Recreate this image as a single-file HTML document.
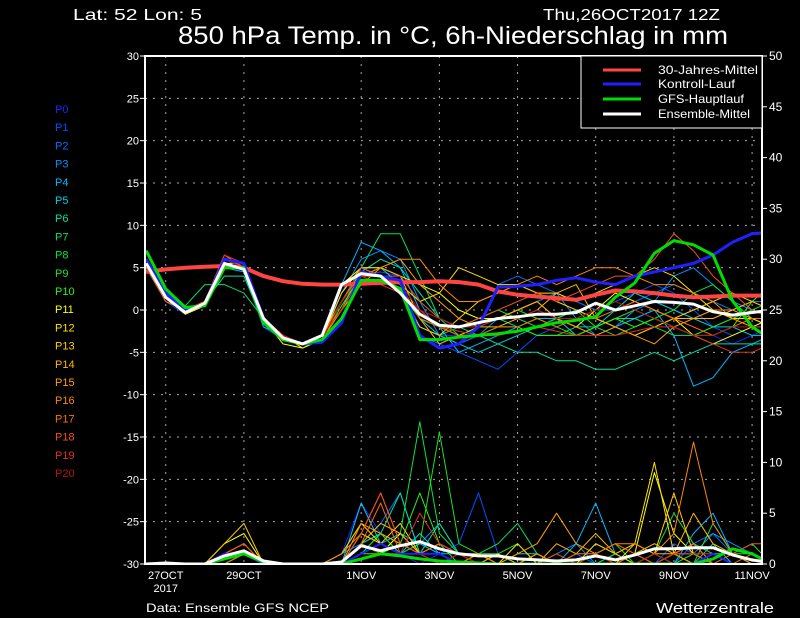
<!DOCTYPE html>
<html><head><meta charset="utf-8"><style>
html,body{margin:0;padding:0;background:#000;}
svg{display:block;font-family:"Liberation Sans",sans-serif;}
</style></head><body>
<svg id="chart" width="800" height="618" viewBox="0 0 800 618" xmlns="http://www.w3.org/2000/svg">
<rect width="800" height="618" fill="#000"/>
<text x="73" y="20" fill="#fff" font-size="16" textLength="129" lengthAdjust="spacingAndGlyphs">Lat: 52 Lon: 5</text>
<text x="543" y="20" fill="#fff" font-size="16" textLength="177" lengthAdjust="spacingAndGlyphs">Thu,26OCT2017 12Z</text>
<text x="178" y="44" fill="#fff" font-size="25" textLength="550" lengthAdjust="spacingAndGlyphs">850 hPa Temp. in °C, 6h-Niederschlag in mm</text>
<g id="grid"></g>
<g id="plot" clip-path="url(#clip)"></g>
<defs><clipPath id="clip"><rect x="146" y="57" width="615" height="506"/></clipPath></defs>
<g id="axes"></g>
<g id="legend">
<rect x="581" y="56" width="181" height="72" fill="#000" stroke="#fff" stroke-width="1"/>
<line x1="603" y1="70" x2="641" y2="70" stroke="#ff4444" stroke-width="3"/>
<text x="658" y="74" fill="#fff" font-size="12" textLength="100" lengthAdjust="spacingAndGlyphs">30-Jahres-Mittel</text>
<line x1="603" y1="84" x2="641" y2="84" stroke="#2020ff" stroke-width="3"/>
<text x="658" y="88" fill="#fff" font-size="12" textLength="77" lengthAdjust="spacingAndGlyphs">Kontroll-Lauf</text>
<line x1="603" y1="99" x2="641" y2="99" stroke="#00dd00" stroke-width="3"/>
<text x="658" y="103" fill="#fff" font-size="12" textLength="86" lengthAdjust="spacingAndGlyphs">GFS-Hauptlauf</text>
<line x1="603" y1="114" x2="641" y2="114" stroke="#fff" stroke-width="3"/>
<text x="658" y="118" fill="#fff" font-size="12" textLength="92" lengthAdjust="spacingAndGlyphs">Ensemble-Mittel</text>
</g>
<g id="memberlegend"></g>
<text x="146" y="612" fill="#fff" font-size="12" textLength="183" lengthAdjust="spacingAndGlyphs">Data: Ensemble GFS NCEP</text>
<text x="656" y="613" fill="#fff" font-size="15" textLength="118" lengthAdjust="spacingAndGlyphs">Wetterzentrale</text>
</svg>
<script>
const tempTicks=[30,25,20,15,10,5,0,-5,-10,-15,-20,-25,-30];
const precTicks=[50,45,40,35,30,25,20,15,10,5,0];
const dateLabels=["27OCT","29OCT","1NOV","3NOV","5NOV","7NOV","9NOV","11NOV"];
const dateDays=[0.5,2.5,5.5,7.5,9.5,11.5,13.5,15.5];
const memberColors=["#2020ff","#0050ff","#0070ff","#0090ff","#00b8ff","#00d0e0","#00e0a0","#00e070","#10e040","#20e020","#30f010","#ffff00","#ffe000","#ffd000","#ffb800","#ffa000","#ff8800","#ff7000","#f05020","#e03020","#b01818"];
const climate=[4.5,4.8,5,5.1,5.2,5,4,3.4,3.1,3,3,3.1,3.2,3.3,3.3,3.4,3.3,3.0,2.2,1.8,1.6,1.4,1.2,1.8,2.3,2.2,2,1.7,1.5,1.6,1.7,1.7,1.7];
const meanT=[5.5,1.5,-0.3,0.8,5.5,4.8,-1,-3.3,-4,-3,3,4.3,4,2,-0.5,-1.8,-2,-1.5,-1,-0.8,-0.5,-0.5,-0.3,0.8,0,0.5,1,0.9,0.7,-0.2,-0.6,-0.3,0];
const gfsT=[7,2.5,0.3,0.5,5,5,-1.5,-3.5,-4,-3.5,-1,3.5,3.5,2.5,-3.5,-3.5,-3.2,-3,-2.8,-2.5,-2,-1.5,-1.2,-0.8,1.5,3.2,6.7,8.2,7.7,6.5,1.1,-2,-3.5];
const controlT=[6,2,0,0.7,6,5.5,-1,-3.5,-4,-3.8,-1.5,4.5,4,3.5,-3,-4.5,-4,-2,2.7,2.8,3,3.5,3.8,3.3,3,4,4.5,5,5.5,6.5,8,9,9.2];
const membersT=[
[6,2,0,1,6,5,-1,-3,-4,-3,0,5,5,3,-2,-3,-3,-2,-1,-1,0,-1,-2,-3,-2,-1,0,-1,-2,-3,-4,-3,-2],
[5,1,-0.5,0.5,5,5,-2,-3.5,-4,-3.5,1,4,4.5,4,-1,-4,-5,-6,-7,-5,-3,-2,-1,0,1,2,3,2,0,-2,-3,-2,-1],
[6,2,0,1,6,5,-1,-3,-4.5,-3,2,5,4,2,-3,-4,-3,-2,3,4,3,2,1,0,0,1,2,3,2,1,0,1,1],
[5.5,1.5,-0.5,0.5,5.5,5,-1,-3,-4,-3,2,6,7,6,1,-3,-4,-3,-1,0,1,2,-1,-3,-2,0,1,4,5,3,1,0,-1],
[5,1.5,0,1,5,4.5,-2,-3,-4,-3,3,8,7,5,0,-2,-5,-4,-3,-2,-1,-1,0,-1,-2,-1,0,-3,-9,-8,-5,-4,-3],
[6,2,0,1,5,5,-1,-3,-4,-3.5,1,4,5,3,-1,-3,-4,-5,-4,-3,-2,-1,-3,-2,0,2,1,0,-1,-2,-2,-3,-3],
[5.5,1.5,-0.5,1,4,4,-1.5,-3,-4,-3.5,1,4.5,6,5,2,-1,-2,-3,-4,-5,-5,-6,-6,-7,-7,-6,-5,-6,-5,-4,-4,-4,-4],
[6,2,0.5,3,3,2,-1,-3,-4,-3,0,5,9,9,4,-1,-3,-2,-1,-2,-3,-3,-2,-2,-1,-1,-2,-3,-3,-2,-1,-2,-2],
[6,2,0,1,5.5,5,-1,-3,-4,-3,1,4,4,2,-2,-3,-2,-1,0,-1,-2,-1,0,-2,-3,-2,-1,0,2,3,1,-1,-2],
[5.5,1.5,0,1,5,5,-1,-3.5,-4,-3.5,0,4,4,3,-1,-2,-2,-2,-1,0,-1,-2,-3,-2,-1,0,-1,-2,-3,-2,-1,0,1],
[6,2,0,1,5.5,5,-1,-3,-4,-3.5,0.5,4,4,2,-1,-2,-3,-3,-2,-2,-3,-3,-3,-2,-1,-2,-1,-2,-3,-3,-2,1,3],
[6,2,-0.5,0.5,5.5,5.5,-1,-4,-4.5,-3.5,3,5,5,4,3,2,0,-1,-1,0,1,-1,-2,0,2,1,0,-1,-3,-4,-3,-2,-1],
[5.5,1.5,-0.5,1,6,5.5,-1,-3,-4.5,-3.5,2,5,4,3,1,2,5,4,3,3,2,2,1,2,3,4,5,4,2,0,-1,-1,-2],
[5.5,2,0,1,6,5.5,-1,-3,-4,-3.5,1,4,4,2,-2,-3,-1,1,2,3,2,1,0,-1,-2,-3,-2,-1,0,1,2,1,0],
[6,1.5,-0.5,1,6,5,-1,-3,-4,-3,0,4,5,4,-1,-4,-3,-2,-2,-1,0,2,3,-1,-2,-3,-2,-1,-1,-1,0,1,0],
[6,2,0,1,6.5,5,-1.5,-3.5,-4,-3,0,3,5,6,3,1,-1,-2,-1,0,1,-1,-2,-3,-2,-3,-4,-2,-1,0,0,-1,-1],
[5.5,1.5,0,1,6,5,-1,-3,-4,-3.5,0,4,5,6,6,3,1,1,2,3,4,3,4,5,5,4,3,3,2,1,-1,-2,-2],
[5,1,0,0.5,6.5,5,-1,-3,-4,-3,1,4,4,3,-1,-2,-3,-3,-2,-2,-1,-2,-1,-1,0,1,0,-1,-2,-3,-2,-1,-1],
[6,2,0,1,6,5,-1,-3,-4,-3.5,1,5,4,4,1,-1,-2,-1,0,1,2,1,2,3,4,4,6,9,7,4,2,0,-1],
[5.5,1.5,0,1,6.5,5.5,-1,-3,-4,-3,0,4,3,2,0,-2,-2.5,-3,-3,-2.5,-2,-2.5,-3,-3,-3,-2.5,-2,-2,-3,-4,-5,-5,-4],
[6,2,0,0.5,6,5,-1,-3,-4,-3.5,1,4,4,3,0,-1,-2,-2,-1,-1,0,-1,-1,0,1,0,-1,-2,-3,-3,-2,-2,-2]
];
const meanP=[0,0.1,0,0,0.8,1.3,0.3,0,0,0,0.2,1.8,1.3,1.8,2.2,1.5,1,0.8,0.8,0.5,0.4,0.3,0.4,0.8,0.4,0.9,1.5,1.5,1.6,1.6,0.9,0.4,0.1];
const gfsP=[0,0,0,0,0.5,1,0.2,0,0,0,0,0.5,1,0.8,0.5,0.3,0.2,0.1,0,0,0,0,0,0,0,0,0,0,0,0.5,1.5,1,0];
const controlP=[0,0,0,0,1,1,0,0,0,0,0,1,2,1,1,1,0,0,0,0,0,0,0,0,0,0,0,0,0,1,0,0,0];
const membersP=[
[0,0,0,0,1,2,0,0,0,0,1,6,3,1,0,1,0,0,0,0,0,0,0,0,0,0,0,1,2,1,0,0,0],
[0,0,0,0,0,1,0,0,0,0,0,3,2,1,2,1,2,7,1,0,0,0,0,0,0,1,0,2,1,0,0,0,0],
[0,0,0,0,1,1,0,0,0,0,0,2,4,7,1,2,1,1,0,0,0,0,1,0,1,2,1,0,2,3,1,0,0],
[0,0,0,0,0,1,0,0,0,0,1,2,3,1,2,4,1,0,0,0,0,1,2,0,1,0,0,1,1,3,2,1,0],
[0,0,0,0,0,0,0,0,0,0,0,1,2,3,2,1,0,0,0,0,1,0,2,6,1,0,1,0,3,5,1,0,0],
[0,0,0,0,1,1,0,0,0,0,0,6,2,1,3,1,1,0,0,1,1,0,0,0,0,0,0,1,0,1,0,0,0],
[0,0,0,0,0,1,0,0,0,0,0,2,3,7,1,4,1,0,1,0,0,0,0,0,0,1,0,0,0,2,0,0,0],
[0,0,0,0,0,1,0,0,0,0,0,1,3,2,1,1,0,1,2,4,1,0,0,0,0,1,2,1,0,1,1,0,0],
[0,0,0,0,0,1,0,0,0,0,0,2,1,3,14,3,1,0,0,0,0,0,0,0,1,0,1,5,2,1,0,0,0],
[0,0,0,0,0,0,0,0,0,0,0,1,3,1,2,13,2,1,1,2,0,0,0,1,2,0,0,1,0,4,1,1,0],
[0,0,0,0,0,1,0,0,0,0,0,1,1,2,7,2,0,0,0,0,0,0,0,2,1,2,1,0,1,0,1,2,0],
[0,0,0,0,2,3,0,0,0,0,0,2,1,3,1,0,0,1,0,0,1,0,0,0,0,1,9,3,1,0,0,0,0],
[0,0,0,0,1,2,0,0,0,0,1,4,2,1,1,1,0,0,0,2,0,0,0,1,0,2,10,1,2,0,0,0,0],
[0,0,0,0,2,4,0,0,0,0,0,3,2,4,1,2,1,0,0,0,1,0,0,2,1,0,1,7,1,0,0,0,0],
[0,0,0,0,1,2,0,0,0,0,0,2,4,3,1,0,1,0,1,0,0,2,1,3,1,2,1,1,5,2,1,0,0],
[0,0,0,0,1,1,0,0,0,0,0,4,3,2,1,2,1,1,0,1,2,5,2,1,0,1,2,1,0,0,0,0,0],
[0,0,0,0,1,2,0,0,0,0,1,3,7,2,1,0,0,1,0,0,1,0,0,1,2,2,1,3,12,4,1,0,0],
[0,0,0,0,0,1,0,0,0,0,0,2,6,1,1,2,1,0,0,0,0,0,1,1,2,1,0,1,2,0,0,1,0],
[0,0,0,0,1,2,0,0,0,0,0,3,7,2,1,0,1,0,0,0,0,1,0,0,0,1,0,1,1,0,1,2,2],
[0,0,0,0,1,1,0,0,0,0,0,2,1,1,5,2,1,0,0,0,0,0,0,1,0,0,0,1,1,1,0,0,0],
[0,0,0,0,1,1,0,0,0,0,0,1,2,1,1,0,1,0,0,0,0,0,0,0,0,0,1,0,0,0,0,0,0]
];

const NS="http://www.w3.org/2000/svg";
const X0=146.2, DAY=39.09, L=145, R=762, T=56, B=564;
function xDay(d){return X0+d*DAY;}
function xIdx(i){return xDay(i*0.5);}
function yT(v){return 310-v*(254/30);}
function yP(v){return B-v*(508/50);}
function mk(tag,attrs,parent){const e=document.createElementNS(NS,tag);for(const k in attrs)e.setAttribute(k,attrs[k]);parent.appendChild(e);return e;}
const grid=document.getElementById('grid'),plot=document.getElementById('plot'),axes=document.getElementById('axes'),ml=document.getElementById('memberlegend');

tempTicks.forEach(v=>{
  const y=yT(v);
  if(v!==30&&v!==-30){const g=mk('line',{x1:L,x2:R,y1:y,y2:y,stroke:'#aaa','stroke-width':1,'stroke-dasharray':'2,6'},grid);
  
  }
  const t=mk('line',{x1:L-5,x2:L,y1:y,y2:y,stroke:'#fff','stroke-width':1},axes);
  
  
  const tx=mk('text',{x:L-6,y:y+4,fill:'#fff','font-size':11,'text-anchor':'end'},axes);
  tx.textContent=v;
  
  
});
precTicks.forEach(v=>{
  const y=yP(v);
  const t=mk('line',{x1:R,x2:R+5,y1:y,y2:y,stroke:'#fff','stroke-width':1},axes);
  
  
  const tx=mk('text',{x:R+7,y:y+4,fill:'#fff','font-size':12},axes);
  tx.textContent=v;
  
  
});
dateLabels.forEach((lab,k)=>{
  const x=xDay(dateDays[k]);
  const g=mk('line',{x1:x,x2:x,y1:T,y2:B,stroke:'#aaa','stroke-width':1,'stroke-dasharray':'2,6'},grid);
  
  
  const tx=mk('text',{x:x,y:579,fill:'#fff','font-size':11,'text-anchor':'middle'},axes);
  tx.textContent=lab;
  
  
});
const yr=mk('text',{x:xDay(0.5),y:592,fill:'#fff','font-size':11,'text-anchor':'middle'},axes);
yr.textContent='2017';


const fr=mk('rect',{x:L,y:T,width:R-L,height:B-T,fill:'none',stroke:'#fff','stroke-width':2},axes);



function line(arr,yf,color,w,name){
  const pts=arr.map((v,i)=>xIdx(i).toFixed(1)+','+yf(v).toFixed(1)).join(' ');
  const p=mk('polyline',{points:pts,fill:'none',stroke:color,'stroke-width':w,'stroke-linejoin':'round'},plot);
  
  
}
membersP.forEach((a,k)=>line(a,yP,memberColors[k],1,'precip-member-p'+k));
membersT.forEach((a,k)=>line(a,yT,memberColors[k],1,'temp-member-p'+k));
line(controlP,yP,'#2020ff',2,'precip-control');
line(gfsP,yP,'#00dd00',3,'precip-gfs');
line(meanP,yP,'#ffffff',3,'precip-mean');
line(climate,yT,'#ff4444',4,'temp-climate');
line(controlT,yT,'#2020ff',3,'temp-control');
line(gfsT,yT,'#00dd00',3,'temp-gfs');
line(meanT,yT,'#ffffff',3,'temp-mean');

memberColors.forEach((c,k)=>{
  const t=mk('text',{x:55,y:113+k*18.2,fill:c,'font-size':11},ml);
  t.textContent='P'+k;
  
  
});
</script>
</body></html>
